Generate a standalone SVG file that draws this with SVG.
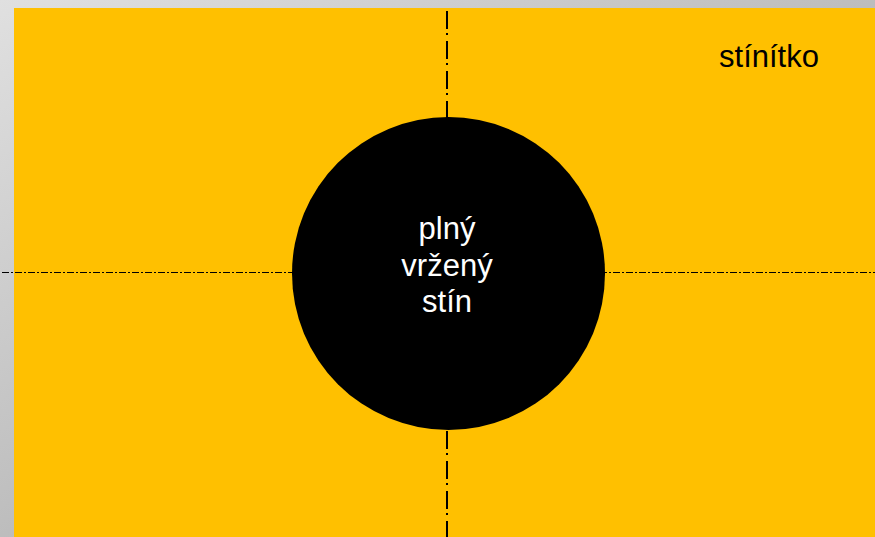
<svg xmlns="http://www.w3.org/2000/svg" width="875" height="537" viewBox="0 0 875 537">
<defs>
<linearGradient id="bg" x1="0" y1="0" x2="1" y2="1">
<stop offset="0" stop-color="#e0e0e0"/>
<stop offset="1" stop-color="#9a9a9a"/>
</linearGradient>
<style>
.t{font-family:"Liberation Sans",Arial,sans-serif;font-size:31px;text-anchor:middle}
.axis{fill:none;stroke:#000}
</style>
</defs>
<rect x="0" y="0" width="875" height="537" fill="url(#bg)"/>
<rect id="screen" x="14" y="8" width="861" height="529" fill="#ffc000"/>
<g id="connectors">
<line class="axis" x1="447" y1="11" x2="447" y2="537" stroke-width="2" stroke-dasharray="18 4 2 6"/>
<line class="axis" x1="2" y1="272.5" x2="875" y2="272.5" stroke-width="1" stroke-dasharray="7 2 2 2"/>
</g>
<g id="shadow">
<circle cx="448.5" cy="273.5" r="156.5" fill="#000"/>
<text class="t" x="447" y="239" fill="#fff">plný</text>
<text class="t" x="447" y="276" fill="#fff">vržený</text>
<text class="t" x="447" y="312" fill="#fff">stín</text>
</g>
<g id="label">
<text class="t" x="769" y="67" fill="#000">stínítko</text>
</g>
</svg>
